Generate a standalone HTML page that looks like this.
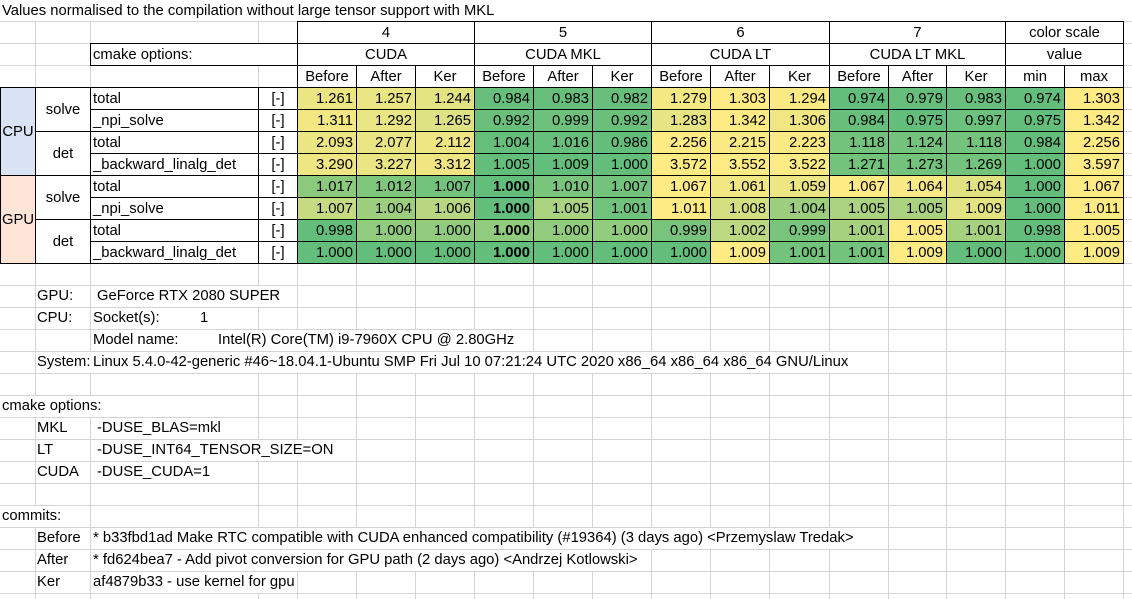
<!DOCTYPE html>
<html><head><meta charset="utf-8"><style>
body{margin:0;width:1132px;height:599px;background:#fff;overflow:hidden;font-family:"Liberation Sans",sans-serif;font-size:14.8px;color:#000;position:relative}
.c{position:absolute;box-sizing:border-box;height:22px;line-height:22px;white-space:nowrap}
.t{position:absolute;height:22px;line-height:22px;white-space:nowrap;background:#fff;padding-right:2px}
.b{border:1px solid #000}
.num{text-align:right;padding-right:3px}
.ctr{text-align:center}
</style></head><body>
<svg id="grid" width="1132" height="599" style="position:absolute;left:0;top:0"></svg>
<div id="sheet"></div>
<script>
// ---- data ----
const groups = ["4","5","6","7"];
const groupNames = ["CUDA","CUDA MKL","CUDA LT","CUDA LT MKL"];
const subCols = ["Before","After","Ker"];
const rowLabels = ["total","_npi_solve","total","_backward_linalg_det","total","_npi_solve","total","_backward_linalg_det"];
const r0 = [1.261,1.257,1.244,0.984,0.983,0.982,1.279,1.303,1.294,0.974,0.979,0.983];
const r1 = [1.311,1.292,1.265,0.992,0.999,0.992,1.283,1.342,1.306,0.984,0.975,0.997];
const r2 = [2.093,2.077,2.112,1.004,1.016,0.986,2.256,2.215,2.223,1.118,1.124,1.118];
const r3 = [3.290,3.227,3.312,1.005,1.009,1.000,3.572,3.552,3.522,1.271,1.273,1.269];
const r4 = [1.017,1.012,1.007,1.000,1.010,1.007,1.067,1.061,1.059,1.067,1.064,1.054];
const r5 = [1.007,1.004,1.006,1.000,1.005,1.001,1.011,1.008,1.004,1.005,1.005,1.009];
const r6 = [0.998,1.000,1.000,1.000,1.000,1.000,0.999,1.002,0.999,1.001,1.005,1.001];
const r7 = [1.000,1.000,1.000,1.000,1.000,1.000,1.000,1.009,1.001,1.001,1.009,1.000];
const rowMin = [0.974,0.975,0.984,1.000,1.000,1.000,0.998,1.000];
const rowMax = [1.303,1.342,2.256,3.597,1.067,1.011,1.005,1.009];
const rows = [r0,r1,r2,r3,r4,r5,r6,r7];

const S = document.getElementById('sheet');
const G = document.getElementById('grid');
const colX = [0,35,90,258,297,356,415,474,533,592,651,710,769,829,888,946,1005,1064,1123];
const RH = 22, TOP = 21;
let g = '';
colX.slice(1).forEach(x=>{ g += `<line x1="${x+.5}" y1="0" x2="${x+.5}" y2="599" stroke="#d4d4d4"/>`; });
for(let y=TOP;y<599;y+=RH){ g += `<line x1="0" y1="${y+.5}" x2="1132" y2="${y+.5}" stroke="#d4d4d4"/>`; }
G.innerHTML = g;

function cell(x1,x2,row,rows_,text,cls,name,bg,bold){
  const d=document.createElement('div');
  d.className='c '+(cls||'');
  d.style.left=x1+'px'; d.style.width=(x2-x1+1)+'px';
  d.style.top=(TOP+row*RH)+'px'; d.style.height=(rows_*RH+1)+'px';
  d.style.lineHeight=(rows_*RH)+'px';
  if(bg) d.style.background=bg;
  if(bold) d.style.fontWeight='bold';
  d.textContent=text;
  
  
  S.appendChild(d);
  return d;
}
function txt(x,row,text,name){
  const d=document.createElement('div');
  d.className='t';
  d.style.left=x+'px'; d.style.top=(TOP+row*RH+1)+'px'; d.style.height=(RH-1)+'px'; d.style.lineHeight=(RH-1)+'px';
  d.textContent=text;
  
  
  S.appendChild(d);
}
{const d=document.createElement('div');d.className='t';d.style.left='2px';d.style.top='0px';d.style.height='21px';d.style.lineHeight='22px';d.style.width='1130px';
d.textContent='Values normalised to the compilation without large tensor support with MKL';


S.appendChild(d);}
for(let i=0;i<4;i++){
  const x1=colX[4+i*3], x2=colX[7+i*3];
  cell(x1,x2,0,1,groups[i],'b ctr','group-number-'+groups[i],'#fff');
  cell(x1,x2,1,1,groupNames[i],'b ctr','group-name-'+groups[i],'#fff');
  for(let j=0;j<3;j++) cell(colX[4+i*3+j],colX[5+i*3+j],2,1,subCols[j],'b ctr','col-header-'+subCols[j].toLowerCase(),'#fff');
}
cell(1005,1123,0,1,'color scale','b ctr','color-scale-header','#fff');
cell(1005,1123,1,1,'value','b ctr','value-header','#fff');
cell(1005,1064,2,1,'min','b ctr','min-header','#fff');
cell(1064,1123,2,1,'max','b ctr','max-header','#fff');
{const d=cell(90,297,1,1,'cmake options:','b','cmake-options-label','#fff');d.style.paddingLeft='2px';}
cell(0,35,3,4,'CPU','b ctr','cpu-label','#dae3f3');
cell(0,35,7,4,'GPU','b ctr','gpu-label','#fce4d6');
cell(35,90,3,2,'solve','b ctr','cpu-solve-label','#fff');
cell(35,90,5,2,'det','b ctr','cpu-det-label','#fff');
cell(35,90,7,2,'solve','b ctr','gpu-solve-label','#fff');
cell(35,90,9,2,'det','b ctr','gpu-det-label','#fff');
const G0=[0x63,0xBE,0x7B], Y0=[0xFF,0xEB,0x84];
function col(v,mn,mx){const t=mx>mn?(v-mn)/(mx-mn):0;return 'rgb('+G0.map((g,i)=>Math.round(g+(Y0[i]-g)*t)).join(',')+')';}
rows.forEach((r,ri)=>{
  const row=3+ri;
  {const d=cell(90,258,row,1,rowLabels[ri],'b','row-label-'+rowLabels[ri],'#fff');d.style.paddingLeft='2px';}
  cell(258,297,row,1,'[-]','b ctr','unit-'+ri,'#fff');
  const mn=Math.min(...r), mx=Math.max(...r);
  r.forEach((v,ci)=>{
    cell(colX[4+ci],colX[5+ci],row,1,v.toFixed(3),'b num','value-cell',col(v,mn,mx), ci===3&&ri>=4);
  });
  cell(1005,1064,row,1,rowMin[ri].toFixed(3),'b num','row-min',col(rowMin[ri],rowMin[ri],rowMax[ri]));
  cell(1064,1123,row,1,rowMax[ri].toFixed(3),'b num','row-max',col(rowMax[ri],rowMin[ri],rowMax[ri]));
});
txt(37,12,'GPU:','gpu-key'); txt(97,12,'GeForce RTX 2080 SUPER','gpu-value');
txt(37,13,'CPU:','cpu-key'); txt(93,13,'Socket(s):','socket-key'); txt(200,13,'1','socket-value');
txt(93,14,'Model name:','model-key'); txt(218,14,'Intel(R) Core(TM) i9-7960X CPU @ 2.80GHz','model-value');
txt(37,15,'System:','system-key'); txt(93,15,'Linux  5.4.0-42-generic #46~18.04.1-Ubuntu SMP Fri Jul 10 07:21:24 UTC 2020 x86_64 x86_64 x86_64 GNU/Linux','system-value');
txt(2,17,'cmake options:','cmake-options-title');
txt(37,18,'MKL','mkl-key'); txt(97,18,'-DUSE_BLAS=mkl','mkl-value');
txt(37,19,'LT','lt-key'); txt(97,19,'-DUSE_INT64_TENSOR_SIZE=ON','lt-value');
txt(37,20,'CUDA','cuda-key'); txt(97,20,'-DUSE_CUDA=1','cuda-value');
txt(2,22,'commits:','commits-title');
txt(37,23,'Before','before-key'); txt(93,23,'* b33fbd1ad  Make RTC compatible with CUDA enhanced compatibility (#19364) (3 days ago) <Przemyslaw Tredak>','before-value');
txt(37,24,'After','after-key'); txt(93,24,'* fd624bea7 - Add pivot conversion for GPU path (2 days ago) <Andrzej Kotlowski>','after-value');
txt(37,25,'Ker','ker-key'); txt(93,25,'af4879b33 - use kernel for gpu','ker-value');
</script>
</body></html>
